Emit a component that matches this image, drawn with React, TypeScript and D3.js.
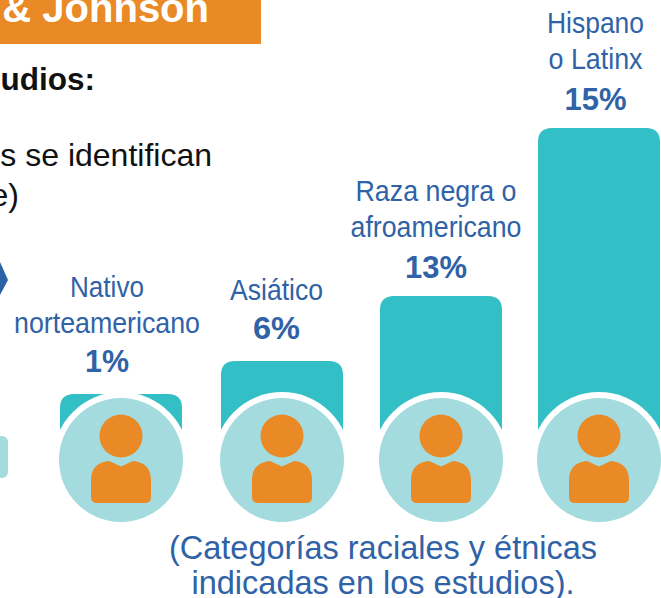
import React from "react";
import * as d3 from "d3";

const categories = ["Nativo norteamericano", "Asiático", "Raza negra o afroamericano", "Hispano o Latinx"];
const labelLines = [["Nativo", "norteamericano"], ["Asiático"], ["Raza negra o", "afroamericano"], ["Hispano", "o Latinx"]];
const values = [1, 6, 13, 15];
const valueLabels = ["1%", "6%", "13%", "15%"];
const footnote = ["(Categorías raciales y étnicas", "indicadas en los estudios)."];
const headerText = "& Johnson";
const bodyBold = "udios:";
const bodyLines = ["s se identifican", "e)"];

const W = 661, H = 598;
const TEAL = "#33bfc6", LIGHT = "#a4dbde", ORANGE = "#ea8a26", BLUE = "#2f62a6", FONT = "Liberation Sans";
// The picture's bars are not drawn proportionally, so the scale is piecewise.
const y = d3.scaleLinear().domain([1, 6, 13, 15]).range([394, 361, 296, 128]);
const x = d3.scaleOrdinal<string, number>().domain(categories).range([121, 282, 441, 599]);
const labelX = d3.scaleOrdinal<string, number>().domain(categories).range([107, 276.5, 436, 595.5]);
const barW = 122, circleY = 460, r = 62, ring = 6;
const lineWidths = [[74, 186], [93], [161, 171], [97, 94]];
const pctWidths = [44, 47, 62, 62];
const pctGaps = [22, 22, 18, 18];
const lineGaps = [39, 39, 41, 41];

function roundedTop(x0: number, w: number, top: number, bottom: number, rad: number) {
  const p = d3.path();
  p.moveTo(x0, bottom);
  p.lineTo(x0, top + rad);
  p.quadraticCurveTo(x0, top, x0 + rad, top);
  p.lineTo(x0 + w - rad, top);
  p.quadraticCurveTo(x0 + w, top, x0 + w, top + rad);
  p.lineTo(x0 + w, bottom);
  p.closePath();
  return p.toString();
}

function bodyPath(cx: number) {
  const p = d3.path();
  p.moveTo(cx - 30, 497);
  p.lineTo(cx - 30, 480);
  p.bezierCurveTo(cx - 30, 467, cx - 22, 462, cx - 12, 461);
  p.lineTo(cx, 466.5);
  p.lineTo(cx + 12, 461);
  p.bezierCurveTo(cx + 22, 462, cx + 30, 467, cx + 30, 480);
  p.lineTo(cx + 30, 497);
  p.quadraticCurveTo(cx + 30, 503, cx + 24, 503);
  p.lineTo(cx - 24, 503);
  p.quadraticCurveTo(cx - 30, 503, cx - 30, 497);
  p.closePath();
  return p.toString();
}

export default function App() {
  return (
    <svg width={W} height={H} viewBox={`0 0 ${W} ${H}`} style={{ position: "absolute", left: 0, top: 0 }} fontFamily={FONT}>
      <rect width={W} height={H} fill="#fff" />
      <rect x={0} y={0} width={261} height={44} fill={ORANGE} />
      <text x={209} y={22} textAnchor="end" fontSize={40} fontWeight={700} fill="#fff">{headerText}</text>
      <text x={95} y={90} textAnchor="end" fontSize={31.5} fontWeight={700} fill="#111">{bodyBold}</text>
      <text x={212} y={166} textAnchor="end" fontSize={32} fill="#111">{bodyLines[0]}</text>
      <text x={19} y={206} textAnchor="end" fontSize={32} fill="#111">{bodyLines[1]}</text>
      <path d="M0,262 L8,280 L0,295 Z" fill="#2a62a6" />
      <rect x={-20} y={436} width={28} height={42} rx={6} fill={LIGHT} />
      {categories.map((c, i) => {
        const cx = x(c);
        const lx = labelX(c);
        const top = y(values[i]);
        const lines = labelLines[i];
        const pctY = top - pctGaps[i];
        return (
          <g key={c}>
            <path d={roundedTop(cx - barW / 2, barW, top, circleY, 14)} fill={TEAL} />
            <circle cx={cx} cy={circleY} r={r + ring} fill="#fff" />
            <circle cx={cx} cy={circleY} r={r} fill={LIGHT} />
            <circle cx={cx} cy={436} r={21.5} fill={ORANGE} />
            <path d={bodyPath(cx)} fill={ORANGE} />
            <text x={lx} y={pctY} textAnchor="middle" fontSize={31} fontWeight={700} fill={BLUE}
              textLength={pctWidths[i]} lengthAdjust="spacingAndGlyphs">{valueLabels[i]}</text>
            {lines.map((l, j) => (
              <text key={l} x={lx} y={pctY - lineGaps[i] - (lines.length - 1 - j) * 36} textAnchor="middle" fontSize={30} fill={BLUE}
                textLength={lineWidths[i][j]} lengthAdjust="spacingAndGlyphs">{l}</text>
            ))}
          </g>
        );
      })}
      {footnote.map((l, i) => (
        <text key={l} x={383} y={559 + i * 35} textAnchor="middle" fontSize={32.5} fill={BLUE}>{l}</text>
      ))}
    </svg>
  );
}
